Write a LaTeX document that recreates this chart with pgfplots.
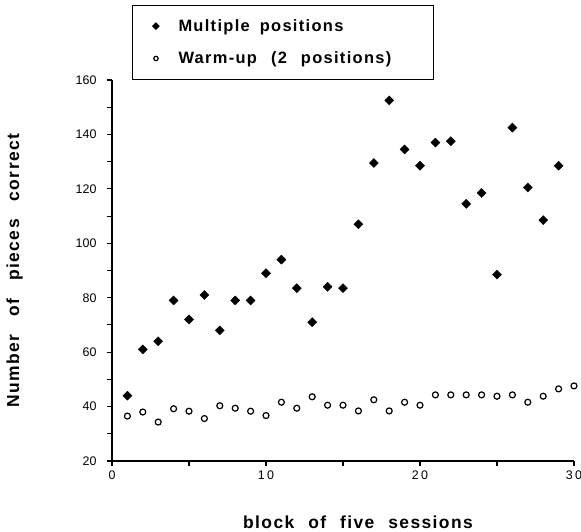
\documentclass[border=0pt]{standalone}
\usepackage{fontspec}
\setmainfont{Liberation Sans}
\newfontfamily\lblfont[LetterSpace=8]{Liberation Sans}
\newfontfamily\xtickfont[LetterSpace=18]{Liberation Sans}
\usepackage{pgfplots}
\pgfplotsset{compat=1.18}

\begin{document}
\begin{tikzpicture}
\begin{axis}[
    name=ax,
    scale only axis,
    width=462bp, height=381bp,
    xmin=0, xmax=30, ymin=20, ymax=160,
    axis x line*=bottom, axis y line*=left,
    axis line style={line width=1.1pt},
    every tick/.style={black, line width=1.1pt},
    tick align=outside,
    major tick length=5bp, minor tick length=5bp,
    xtick={0,10,20,30}, minor xtick={5,15,25},
    ytick={20,40,...,160}, minor ytick={30,50,...,150},
    /pgf/number format/assume math mode=true,
    yticklabel style={font=\fontsize{12.5}{14}\selectfont, xshift=-7bp},
    xticklabel style={font=\xtickfont\fontsize{12.5}{14}\selectfont, yshift=-1bp},
    xlabel={block\hspace{14bp}of\hspace{14bp}five\hspace{14bp}sessions},
    ylabel={Number\hspace{18bp}of\hspace{18bp}pieces\hspace{18bp}correct},
    label style={font=\lblfont\fontsize{17.5}{20}\selectfont\bfseries},
    xlabel style={yshift=-30bp, xshift=15bp},
    ylabel style={yshift=46bp},
    clip=false,
    legend style={at={(axis description cs:0.043,1.197)}, anchor=north west,
        draw=black, line width=1.1pt, font=\lblfont\fontsize{16.5}{19}\selectfont\bfseries,
        row sep=15pt, inner ysep=12pt, inner xsep=8bp, cells={anchor=west}},
    legend image code/.code={\path (-15bp,0) (20bp,0); \draw[#1, mark size=2.2pt] plot coordinates {(0bp,0bp)};},
]
\addplot[only marks, mark=square*, mark size=3.2pt, mark options={rotate=45, fill=black}] coordinates {
(1,44) (2,61) (3,64) (4,79) (5,72) (6,81) (7,68) (8,79) (9,79) (10,89)
(11,94) (12,83.5) (13,71) (14,84) (15,83.5) (16,107) (17,129.5) (18,152.5)
(19,134.5) (20,128.5) (21,137) (22,137.5) (23,114.5) (24,118.5) (25,88.5)
(26,142.5) (27,120.5) (28,108.5) (29,128.5)};
\addlegendentry{Multiple\hspace{10bp}positions}
\addplot[only marks, mark=o, mark size=3pt, mark options={line width=1.2pt}] coordinates {
(1,36.5) (2,38) (3,34.3) (4,39.2) (5,38.3) (6,35.6) (7,40.3) (8,39.4) (9,38.3)
(10,36.7) (11,41.6) (12,39.4) (13,43.6) (14,40.5) (15,40.5) (16,38.4) (17,42.5)
(18,38.4) (19,41.6) (20,40.5) (21,44.3) (22,44.3) (23,44.3) (24,44.3) (25,43.8)
(26,44.3) (27,41.6) (28,43.8) (29,46.5) (30,47.6)};
\addlegendentry{\makebox[245bp][l]{Warm-up\hspace{14bp}(2\hspace{14bp}positions)}}
\end{axis}
\pgfresetboundingbox
\path ([shift={(-112bp,-71bp)}]ax.south west) rectangle ([shift={(7bp,80bp)}]ax.north east);
\end{tikzpicture}
\end{document}
